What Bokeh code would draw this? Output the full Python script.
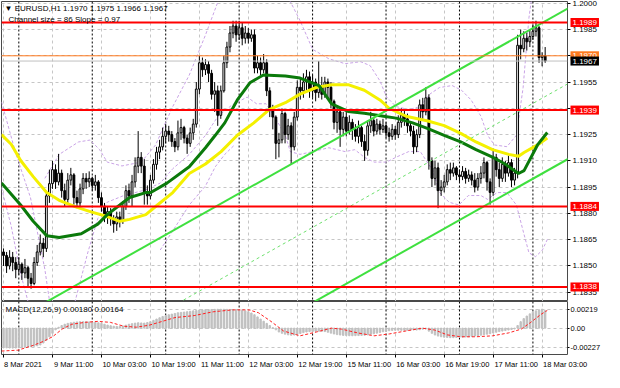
import numpy as np
from bokeh.plotting import figure
from bokeh.layouts import column
from bokeh.models import Range1d, FixedTicker, Span, Label, PrintfTickFormatter
from bokeh.embed import file_html
from bokeh.resources import INLINE

FONT = "Liberation Sans"

# ---------------- data (EURUSD H1, bar index 0 = 8 Mar 19:00) ----------------
first_open = 1.1858
close = [
    1.1856, 1.1850, 1.1855, 1.1852, 1.1848, 1.1851, 1.1846, 1.1849, 1.1843, 1.1840,
    1.1852, 1.1858, 1.1863, 1.1860, 1.1890, 1.1897, 1.1905, 1.1898, 1.1903, 1.1893,
    1.1888, 1.1899, 1.1902, 1.1889, 1.1886, 1.1894, 1.1900, 1.1898, 1.1900, 1.1896,
    1.1898, 1.1889, 1.1884, 1.1878, 1.1881, 1.1877, 1.1874, 1.1878, 1.1876, 1.1884,
    1.1893, 1.1890, 1.1898, 1.1907, 1.1912, 1.1907, 1.1892, 1.1890, 1.1899, 1.1908,
    1.1915, 1.1918, 1.1924, 1.1927, 1.1925, 1.1921, 1.1918, 1.1926, 1.1929, 1.1923,
    1.1920, 1.1926, 1.1931, 1.1951, 1.1966, 1.1962, 1.1965, 1.1960, 1.1948, 1.1950,
    1.1936, 1.1950, 1.1966, 1.1975, 1.1983, 1.1987, 1.1982, 1.1986, 1.1980, 1.1983,
    1.1980, 1.1982, 1.1963, 1.1966, 1.1962, 1.1966, 1.1950, 1.1940, 1.1935, 1.1920,
    1.1922, 1.1937, 1.1925, 1.1930, 1.1918, 1.1935, 1.1952, 1.1950, 1.1955, 1.1958,
    1.1950, 1.1955, 1.1949, 1.1953, 1.1948, 1.1955, 1.1952, 1.1944, 1.1932, 1.1938,
    1.1928, 1.1935, 1.1927, 1.1932, 1.1928, 1.1924, 1.1929, 1.1921, 1.1916, 1.1930,
    1.1933, 1.1927, 1.1931, 1.1928, 1.1930, 1.1926, 1.1924, 1.1928, 1.1925, 1.1932,
    1.1936, 1.1934, 1.1930, 1.1927, 1.1918, 1.1925, 1.1942, 1.1938, 1.1946, 1.1910,
    1.1900, 1.1906, 1.1893, 1.1895, 1.1898, 1.1905, 1.1903, 1.1906, 1.1902, 1.1901,
    1.1904, 1.1900, 1.1902, 1.1899, 1.1895, 1.1900, 1.1903, 1.1909, 1.1898, 1.1892,
    1.1912, 1.1905, 1.1900, 1.1908, 1.1903, 1.1909, 1.1899, 1.1903, 1.1976, 1.1974,
    1.1980, 1.1978, 1.1981, 1.1984, 1.1986, 1.1969, 1.1970, 1.1967]
high = [
    1.1860, 1.1858, 1.1859, 1.1858, 1.1855, 1.1855, 1.1852, 1.1854, 1.1850, 1.1846,
    1.1855, 1.1862, 1.1868, 1.1866, 1.1893, 1.1905, 1.1910, 1.1908, 1.1914, 1.1905,
    1.1897, 1.1903, 1.1906, 1.1903, 1.1893, 1.1897, 1.1903, 1.1903, 1.1904, 1.1901,
    1.1902, 1.1899, 1.1892, 1.1886, 1.1884, 1.1883, 1.1879, 1.1881, 1.1881, 1.1887,
    1.1896, 1.1897, 1.1902, 1.1912, 1.1927, 1.1915, 1.1911, 1.1896, 1.1902, 1.1911,
    1.1918, 1.1922, 1.1929, 1.1931, 1.1930, 1.1927, 1.1923, 1.1933, 1.1934, 1.1930,
    1.1925, 1.1929, 1.1934, 1.1955, 1.1970, 1.1969, 1.1968, 1.1967, 1.1962, 1.1955,
    1.1953, 1.1953, 1.1970, 1.1978, 1.1987, 1.1990, 1.1990, 1.1990, 1.1989, 1.1987,
    1.1986, 1.1985, 1.1985, 1.1970, 1.1969, 1.1971, 1.1968, 1.1952, 1.1942, 1.1936,
    1.1926, 1.1940, 1.1938, 1.1934, 1.1932, 1.1938, 1.1956, 1.1957, 1.1960, 1.1962,
    1.1961, 1.1959, 1.1957, 1.1967, 1.1958, 1.1958, 1.1957, 1.1955, 1.1945, 1.1941,
    1.1940, 1.1938, 1.1938, 1.1936, 1.1934, 1.1931, 1.1933, 1.1930, 1.1925, 1.1933,
    1.1938, 1.1935, 1.1934, 1.1933, 1.1934, 1.1932, 1.1929, 1.1931, 1.1930, 1.1936,
    1.1940, 1.1939, 1.1937, 1.1932, 1.1930, 1.1928, 1.1945, 1.1946, 1.1952, 1.1948,
    1.1912, 1.1910, 1.1909, 1.1899, 1.1902, 1.1908, 1.1909, 1.1909, 1.1907, 1.1905,
    1.1907, 1.1906, 1.1905, 1.1904, 1.1903, 1.1903, 1.1907, 1.1912, 1.1910, 1.1900,
    1.1917, 1.1914, 1.1909, 1.1912, 1.1910, 1.1913, 1.1911, 1.1906, 1.1982, 1.1985,
    1.1984, 1.1983, 1.1985, 1.1988, 1.1990, 1.1987, 1.1972, 1.1975]
low = [
    1.1850, 1.1846, 1.1848, 1.1847, 1.1843, 1.1845, 1.1842, 1.1843, 1.1838, 1.1837,
    1.1839, 1.1850, 1.1856, 1.1855, 1.1858, 1.1886, 1.1894, 1.1894, 1.1896, 1.1889,
    1.1884, 1.1885, 1.1896, 1.1885, 1.1883, 1.1884, 1.1891, 1.1894, 1.1895, 1.1893,
    1.1893, 1.1886, 1.1881, 1.1875, 1.1874, 1.1873, 1.1869, 1.1870, 1.1872, 1.1874,
    1.1882, 1.1886, 1.1884, 1.1895, 1.1903, 1.1903, 1.1885, 1.1885, 1.1888, 1.1897,
    1.1905, 1.1911, 1.1916, 1.1920, 1.1921, 1.1918, 1.1915, 1.1916, 1.1922, 1.1920,
    1.1914, 1.1918, 1.1922, 1.1929, 1.1948, 1.1958, 1.1959, 1.1955, 1.1945, 1.1938,
    1.1930, 1.1934, 1.1949, 1.1963, 1.1972, 1.1980, 1.1978, 1.1979, 1.1976, 1.1977,
    1.1977, 1.1978, 1.1960, 1.1960, 1.1959, 1.1960, 1.1947, 1.1935, 1.1928, 1.1911,
    1.1912, 1.1920, 1.1920, 1.1922, 1.1908, 1.1916, 1.1933, 1.1945, 1.1946, 1.1950,
    1.1946, 1.1946, 1.1944, 1.1946, 1.1945, 1.1946, 1.1945, 1.1940, 1.1928, 1.1926,
    1.1918, 1.1924, 1.1924, 1.1925, 1.1922, 1.1921, 1.1920, 1.1918, 1.1910, 1.1913,
    1.1926, 1.1924, 1.1925, 1.1925, 1.1926, 1.1923, 1.1921, 1.1922, 1.1922, 1.1923,
    1.1929, 1.1930, 1.1926, 1.1924, 1.1914, 1.1915, 1.1923, 1.1934, 1.1936, 1.1905,
    1.1895, 1.1896, 1.1883, 1.1890, 1.1892, 1.1896, 1.1899, 1.1901, 1.1899, 1.1898,
    1.1899, 1.1897, 1.1898, 1.1896, 1.1892, 1.1893, 1.1897, 1.1900, 1.1893, 1.1885,
    1.1890, 1.1901, 1.1895, 1.1898, 1.1898, 1.1901, 1.1895, 1.1896, 1.1900, 1.1968,
    1.1972, 1.1973, 1.1975, 1.1979, 1.1981, 1.1966, 1.1964, 1.1966]

# moving averages (sampled: bar index, price)
ma_green_x = [-0.66, 5.6, 9.7, 14.1, 18.2, 25.4, 30.8, 33.9, 38.0, 41.2, 46.5, 48.1, 53.4,
              60.7, 66.0, 69.2, 72.3, 76.4, 80.5, 84.9, 92.1, 96.9, 103.1, 107.2, 112.6,
              117.9, 124.2, 128.3, 133.7, 138.7, 144.0, 149.4, 154.4, 159.8, 163.9, 168.3,
              170.1, 174.5, 177.7]
ma_green_y = [1.18973, 1.18848, 1.18755, 1.18673, 1.18662, 1.18684, 1.18739, 1.18793,
              1.18848, 1.18891, 1.18919, 1.18919, 1.18973, 1.19066, 1.19175, 1.19246,
              1.19317, 1.19448, 1.19546, 1.19590, 1.19584, 1.19573, 1.19530, 1.19426,
              1.19382, 1.19372, 1.19355, 1.19344, 1.19317, 1.19284, 1.19246, 1.19208,
              1.19164, 1.19121, 1.19082, 1.19028, 1.19044, 1.19191, 1.19262]
ma_yellow_x = [-0.66, 2.5, 5.6, 9.7, 14.1, 18.2, 23.6, 28.6, 33.9, 38.0, 41.2, 46.5, 50.3,
               55.3, 60.7, 66.0, 71.1, 76.4, 81.8, 86.8, 92.1, 96.9, 102.2, 107.2, 112.6,
               117.9, 123.0, 126.1, 131.5, 138.7, 144.0, 149.4, 154.4, 159.8, 165.1, 168.3,
               170.1, 174.5, 177.7]
ma_yellow_y = [1.19250, 1.19195, 1.19102, 1.19010, 1.18919, 1.18875, 1.18837, 1.18809,
               1.18782, 1.18755, 1.18766, 1.18793, 1.18848, 1.18919, 1.19028, 1.19082,
               1.19153, 1.19246, 1.19317, 1.19393, 1.19432, 1.19481, 1.19519, 1.19535,
               1.19535, 1.19503, 1.19448, 1.19399, 1.19355, 1.19328, 1.19301, 1.19257,
               1.19208, 1.19164, 1.19137, 1.19126, 1.19148, 1.19191, 1.19230]

# band envelopes (lilac dashed), sampled
band_a_x = [-0.66, 4.1, 8.8, 13.5, 15.1]
band_a_y = [1.19437, 1.19137, 1.18891, 1.18482, 1.18291]
band_b_x = [-0.66, 2.5, 5.6, 8.1]
band_b_y = [1.18946, 1.18728, 1.18455, 1.18291]
band_c_x = [13.5, 18.2, 24.5, 28.3, 31.4, 33.9, 38.7, 45.0, 49.7, 55.3, 60.7, 66.0, 70.1, 73.3]
band_c_y = [1.19000, 1.19137, 1.19208, 1.19219, 1.19164, 1.19093, 1.19071, 1.19093,
            1.19191, 1.19410, 1.19590, 1.19819, 1.20010, 1.20119]
band_d_x = [90.6, 93.7, 96.9, 101.0, 106.3, 111.6, 116.7, 119.8, 123.0, 125.2, 128.3, 132.4,
            136.2, 139.3, 142.5, 146.6, 149.7, 152.8, 156.0, 158.2, 160.4, 164.5, 167.6,
            169.8, 171.7, 173.3]
band_d_y = [1.20119, 1.20010, 1.19901, 1.19737, 1.19683, 1.19655, 1.19666, 1.19644, 1.19557,
            1.19464, 1.19410, 1.19393, 1.19410, 1.19481, 1.19519, 1.19530, 1.19503, 1.19448,
            1.19355, 1.19246, 1.19191, 1.19181, 1.19246, 1.19519, 1.19917, 1.20119]
band_e_x = [22.9, 24.5, 27.6, 30.8, 33.9, 39.3, 46.5, 51.2, 55.3, 60.7, 66.0, 70.1, 74.8,
            79.6, 82.7, 85.8, 89.0, 92.1, 93.7, 96.9, 101.0, 106.3, 111.6, 114.8, 117.9,
            121.1, 125.2, 128.3, 132.4, 136.2, 140.3, 142.5, 145.6, 148.8, 151.9, 156.0,
            158.2, 161.3, 164.5, 167.6, 169.8, 171.7, 173.9, 176.1, 178.0]
band_e_y = [1.18264, 1.18373, 1.18580, 1.18771, 1.18864, 1.18902, 1.18935, 1.18973, 1.19055,
            1.19137, 1.19246, 1.19355, 1.19421, 1.19464, 1.19426, 1.19426, 1.19339, 1.19246,
            1.19153, 1.19137, 1.19153, 1.19175, 1.19153, 1.19164, 1.19121, 1.19093, 1.19093,
            1.19121, 1.19153, 1.19153, 1.19044, 1.18919, 1.18864, 1.18848, 1.18902, 1.18902,
            1.18880, 1.18919, 1.18919, 1.18848, 1.18700, 1.18575, 1.18553, 1.18591, 1.18662]
band_f_x = [51.2, 55.3, 60.7, 66.0, 69.2, 72.3, 75.5]
band_f_y = [1.18591, 1.18700, 1.18848, 1.18957, 1.19066, 1.19137, 1.19191]

# regression channel (upper line anchors), size 86 pips
chan_x = [-1.0, 185.0]
chan_upper = [1.18147, 1.19976]
chan_size = 0.0086

levels_red = [1.1989, 1.1939, 1.1884, 1.1838]
level_orange = 1.1970

x_ticks = [0, 16, 32, 48, 64, 80, 96, 112, 128, 144, 160, 176]
x_tick_labels = ["8 Mar 2021", "9 Mar 11:00", "10 Mar 03:00", "10 Mar 19:00",
                 "11 Mar 11:00", "12 Mar 03:00", "12 Mar 19:00", "15 Mar 11:00",
                 "16 Mar 03:00", "16 Mar 19:00", "17 Mar 11:00", "18 Mar 03:00"]
day_starts = [5, 29, 53, 77, 101, 125, 149, 173]
price_ticks = [1.2000, 1.1985, 1.1970, 1.1955, 1.1940, 1.1925, 1.1910, 1.1895,
               1.1880, 1.1865, 1.1850, 1.1835]

# MACD histogram (units of 1e-5) and signal line
macd_hist_e5 = [
    -225, -228, -230, -231, -230, -228, -225, -222, -218, -215, -210, -205,
    -195, -172, -140, -100, -60,
    -20, 10, 30, 45,
    55, 62, 68, 72, 74, 75, 74, 72, 70, 68,
    62, 55, 45, 35, 28, 22, 20, 20,
    25, 35, 45, 52, 58, 62, 60,
    58, 65, 75, 90, 105, 120, 135,
    145, 155, 162, 170, 178, 182, 186, 190, 195, 200,
    205, 210, 212, 214, 215, 216, 217, 218, 218, 218, 217, 216, 215, 213, 210, 206,
    200, 190, 175, 155, 130, 105, 80,
    55, 30, 5, -20, -45,
    -60, -70, -78, -82, -80, -72,
    -62, -52, -45, -40, -38, -36, -35, -36,
    -40, -48, -58, -68, -75, -80, -84, -86,
    -88, -88, -87, -86, -84, -82, -78, -72, -65, -58,
    -50, -42, -35, -30, -26, -24, -24, -25,
    -26, -25, -22, -20, -22, -18, -12,
    -10, -35, -60, -80, -92, -100, -105, -108,
    -110, -110, -108, -106, -104, -102, -100, -96, -92, -88,
    -82, -76, -70, -64, -56, -48, -40, -34,
    -28, -22, -16, -10,
    30, 75, 110, 140, 165, 185, 200, 212, 219, 205]
sig_x = [-0.66, 4.7, 9.7, 12.9, 16.0, 19.2, 22.3, 26.7, 30.8, 34.9, 39.3, 43.4, 47.5, 51.9,
         56.0, 62.3, 68.5, 74.8, 80.2, 83.3, 87.4, 91.5, 96.9, 102.2, 107.2, 110.4, 115.7,
         121.1, 126.1, 131.5, 136.8, 140.9, 145.0, 149.4, 154.4, 159.8, 165.1, 169.2,
         172.3, 175.5, 177.7]
sig_y = [-0.00265, -0.00255, -0.00200, -0.00155, -0.00100, -0.00010, 0.00045, 0.00067,
         0.00078, 0.00067, 0.00022, 0.00011, 0.00033, 0.00078, 0.00122, 0.00145, 0.00189,
         0.00211, 0.00211, 0.00178, 0.00078, -0.00033, -0.00089, -0.00045, 0.0, -0.00011,
         -0.00055, -0.00089, -0.00067, -0.00033, 0.0, -0.00022, -0.00078, -0.00100,
         -0.00100, -0.00089, -0.00055, -0.00011, 0.00067, 0.00156, 0.00205]
macd_ticks = [0.00219, 0.0, -0.00227]
macd_tick_labels = ["0.00219", "0.00", "-0.00227"]
macd_values_text = "MACD(12,26,9) 0.00180 0.00164"
channel_text = "Channel size = 86 Slope = 0.97"

# ---------------- derived ----------------
c = np.array(close)
o = np.r_[first_open, c[:-1]]
h = np.maximum(np.array(high), np.maximum(o, c))
l = np.minimum(np.array(low), np.minimum(o, c))
bars = np.arange(len(c))
up = c >= o

X0, X1 = -0.66, 184.3
FW = 566
RB = 37
PX_PER_BAR = FW / (X1 - X0)
XFONT_PX = 7.5
CHAR_W = 0.48 * XFONT_PX  # average glyph width estimate

# MT4 style: date labels start at their tick -> place the (centred) label at its centre
label_centres = [t + (len(s) * CHAR_W / 2 + 1.5) / PX_PER_BAR for t, s in zip(x_ticks, x_tick_labels)]


def common(f):
    f.outline_line_color = "#4a4a4a"
    f.outline_line_width = 1
    f.background_fill_color = "white"
    f.border_fill_color = "white"
    f.xgrid.ticker = FixedTicker(ticks=x_ticks)
    for g in (f.xgrid, f.ygrid):
        g.grid_line_color = "#c6c6c6"
        g.grid_line_dash = "3 3"
        g.grid_line_width = 1
    f.yaxis.axis_line_color = None
    f.yaxis.major_tick_out = 3
    f.yaxis.major_tick_in = 0
    f.yaxis.minor_tick_line_color = None
    f.yaxis.major_label_text_font = FONT
    f.yaxis.major_label_text_color = "black"
    f.yaxis.major_label_standoff = 2
    for d in day_starts:
        f.add_layout(Span(location=d, dimension="height", line_color="black",
                          line_dash="2 2", line_width=1, level="underlay"))


p = figure(frame_width=FW, frame_height=300, x_range=Range1d(X0, X1),
           y_range=Range1d(1.18297, 1.2001), output_backend="svg",
           toolbar_location=None, y_axis_location="right",
           min_border_left=1, min_border_right=RB, min_border_top=1, min_border_bottom=0)
p.xaxis.visible = False
p.yaxis.ticker = FixedTicker(ticks=price_ticks)
p.yaxis.formatter = PrintfTickFormatter(format="%.4f")
p.yaxis.major_label_text_font_size = "8px"
common(p)

lilac = "#c9a3e6"
for bx, by in [(band_a_x, band_a_y), (band_b_x, band_b_y), (band_c_x, band_c_y),
               (band_d_x, band_d_y), (band_e_x, band_e_y), (band_f_x, band_f_y)]:
    p.line(bx, by, line_color=lilac, line_dash="3 2", line_width=1)

# candles
p.segment(x0=bars, y0=l, x1=bars, y1=h, line_color="black", line_width=1)
p.vbar(x=bars[up], width=0.6, top=c[up], bottom=o[up], fill_color="white",
       line_color="black", line_width=1)
p.vbar(x=bars[~up], width=0.6, top=o[~up], bottom=c[~up], fill_color="black",
       line_color="black", line_width=1)

# moving averages
p.line(ma_yellow_x, ma_yellow_y, line_color="#f4f000", line_width=3)
p.line(ma_green_x, ma_green_y, line_color="#0b7a0b", line_width=3)

# levels
p.add_layout(Span(location=c[-1], dimension="width", line_color="#c0c0c0", line_width=1))
p.add_layout(Span(location=level_orange, dimension="width", line_color="#ff7a1f", line_width=1))
for lv in levels_red:
    p.add_layout(Span(location=lv, dimension="width", line_color="#ff0000", line_width=2))

# channel
cu = np.array(chan_upper)
p.line(chan_x, cu, line_color="#3fe03f", line_width=2)
p.line(chan_x, cu - chan_size, line_color="#3fe03f", line_width=2)
p.line(chan_x, cu - chan_size / 2, line_color="#6ee06e", line_width=1, line_dash="3 3")

# texts
title_text = "\u25bc EURUSD,H1  %.4f %.4f %.4f %.4f" % (o[-1], h[-1], l[-1], c[-1])
p.add_layout(Label(x=X0, y=1.2001, x_offset=3, y_offset=-2, text=title_text,
                   text_font=FONT, text_font_size="8px", text_color="black",
                   text_baseline="top"))
p.add_layout(Label(x=X0, y=1.2001, x_offset=7, y_offset=-13, text=channel_text,
                   text_font=FONT, text_font_size="8px", text_color="black",
                   text_baseline="top"))

# price tags on the scale (placed in the right side panel so they are not clipped)
tags = [(level_orange, "#ff7a1f")] + [(lv, "#ff0000") for lv in levels_red] + [(c[-1], "#000000")]
for lv, col in tags:
    p.add_layout(Label(x=X1, y=lv, x_offset=3, text="%.4f" % lv, text_font=FONT,
                       text_font_size="8px", text_color="white", text_baseline="middle",
                       text_align="left", background_fill_color=col, padding=2), "right")

# ---------------- MACD panel ----------------
m = figure(frame_width=FW, frame_height=53, x_range=p.x_range,
           y_range=Range1d(-0.00305, 0.00308), output_backend="svg",
           toolbar_location=None, y_axis_location="right",
           min_border_left=1, min_border_right=RB, min_border_top=0, min_border_bottom=17)
common(m)
m.yaxis.ticker = FixedTicker(ticks=macd_ticks)
m.yaxis.major_label_overrides = {t: s for t, s in zip(macd_ticks, macd_tick_labels)}
m.yaxis.major_label_text_font_size = "7.5px"
m.yaxis.major_tick_out = 2
m.yaxis.major_label_standoff = 1
m.ygrid.ticker = FixedTicker(ticks=macd_ticks)
m.xaxis.ticker = FixedTicker(ticks=label_centres, minor_ticks=x_ticks)
m.xaxis.major_label_overrides = {t: s for t, s in zip(label_centres, x_tick_labels)}
m.xaxis.major_label_text_font = FONT
m.xaxis.major_label_text_font_size = "%spx" % XFONT_PX
m.xaxis.major_label_text_color = "black"
m.xaxis.axis_line_color = None
m.xaxis.major_tick_line_color = None
m.xaxis.major_tick_out = 3
m.xaxis.minor_tick_out = 3
m.xaxis.minor_tick_in = 0
m.xaxis.minor_tick_line_color = "black"
m.xaxis.major_label_standoff = 2

hist = np.array(macd_hist_e5) * 1e-5
m.vbar(x=bars, width=0.45, top=hist, bottom=0, fill_color="#c0c0c0", line_color="#c0c0c0")
m.line(sig_x, sig_y, line_color="#ff2020", line_width=1, line_dash="3 2")
m.add_layout(Label(x=X0, y=0.00308, x_offset=4, y_offset=-3, text=macd_values_text,
                   text_font=FONT, text_font_size="8px", text_color="black",
                   text_baseline="top"))

layout = column(p, m, spacing=0)
open("out.html", "w").write(file_html(layout, INLINE))
